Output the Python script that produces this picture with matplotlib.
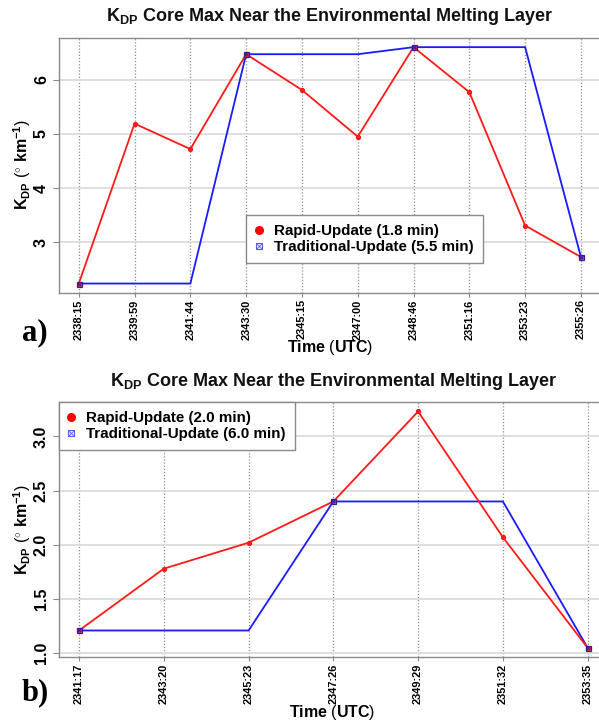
import matplotlib
matplotlib.use("Agg")
import matplotlib.pyplot as plt
from matplotlib.lines import Line2D

plt.rcParams['font.family'] = ['Liberation Sans', 'DejaVu Sans']
plt.rcParams['mathtext.fontset'] = 'custom'
plt.rcParams['mathtext.rm'] = 'Liberation Sans'
plt.rcParams['mathtext.bf'] = 'Liberation Sans:bold'
plt.rcParams['mathtext.it'] = 'Liberation Sans:italic'

# ---- data panel a ----
times_a = ['2338:15', '2339:59', '2341:44', '2343:30', '2345:15',
           '2347:00', '2348:46', '2351:16', '2353:23', '2355:26']
rapid_a = [2.24, 5.19, 4.72, 6.47, 5.81, 4.95, 6.60, 5.77, 3.31, 2.73]
trad_a = [2.24, 2.24, 2.24, 6.47, 6.47, 6.47, 6.60, 6.60, 6.60, 2.73]
trad_a_obs = [0, 3, 6, 9]
yticks_a = [3, 4, 5, 6]
leg_a = ['Rapid-Update (1.8 min)', 'Traditional-Update (5.5 min)']

# ---- data panel b ----
times_b = ['2341:17', '2343:20', '2345:23', '2347:26', '2349:29',
           '2351:32', '2353:35']
rapid_b = [1.21, 1.78, 2.02, 2.40, 3.23, 2.07, 1.05]
trad_b = [1.21, 1.21, 1.21, 2.40, 2.40, 2.40, 1.05]
trad_b_obs = [0, 3, 6]
yticks_b = [1.0, 1.5, 2.0, 2.5, 3.0]
leg_b = ['Rapid-Update (2.0 min)', 'Traditional-Update (6.0 min)']

title = r'$\mathbf{K_{DP}}$ Core Max Near the Environmental Melting Layer'
ylab = r'$\mathbf{K_{DP}}\ (^{\circ}\ \mathbf{km^{-1}})$'
xlab = r'$\mathbf{Time}\ (\mathbf{UTC})$'

RED = '#ff1a1a'
BLUE = '#1a1aff'
FRAME = '#8a8a8a'

fig = plt.figure(figsize=(5.99, 7.22), dpi=100)

W, H = 599.0, 722.0


def make_axes(left, right, top, bottom):
    return fig.add_axes([left / W, 1 - bottom / H, (right - left) / W, (bottom - top) / H])


ax_a = make_axes(58.7, 601.0, 37.7, 293.0)
ax_b = make_axes(58.7, 608.0, 402.0, 657.3)


def draw_panel(ax, times, rapid, trad, obs, yticks, labels, legend_anchor, ylabfmt):
    x = list(range(len(times)))
    n = len(times) - 1
    ax.set_xlim(-0.04 * n, n + 0.04 * n)
    lo = min(min(rapid), min(trad))
    hi = max(max(rapid), max(trad))
    r = hi - lo
    ax.set_ylim(lo - 0.04 * r, hi + 0.04 * r)

    # grid
    for xi in x:
        ax.axvline(xi, color='#8f8f8f', linestyle=(0, (1, 1.5)), lw=0.9, zorder=0)
    for yt in yticks:
        ax.axhline(yt, color='#dcdcdc', linestyle='-', lw=1.3, zorder=0)

    ax.plot(x, trad, color=BLUE, lw=1.3, zorder=2)
    ax.plot(x, rapid, color=RED, lw=1.3, marker='o', ms=2.8, mec=RED, mfc=RED, zorder=3)
    ox = [x[i] for i in obs]
    oy = [trad[i] for i in obs]
    ax.plot(ox, oy, linestyle='none', marker='s', ms=3.6, mfc='none', mec='#3a1a9a', mew=0.9, zorder=4)
    ax.plot(ox, oy, linestyle='none', marker='x', ms=3.0, mec='#3a1a9a', mew=0.7, zorder=4)

    ax.set_xticks(x)
    ax.set_xticklabels(times, rotation=90, fontsize=7.9, fontweight='bold')
    ax.set_yticks(yticks)
    ax.set_yticklabels([ylabfmt.format(v) for v in yticks], rotation=90, va='center',
                       fontsize=11.5, fontweight='bold')
    ax.tick_params(axis='x', length=3, width=0.8, color=FRAME, pad=1.5)
    ax.tick_params(axis='y', length=4.5, width=0.8, color=FRAME, pad=2.5)
    for s in ax.spines.values():
        s.set_color(FRAME)
        s.set_linewidth(1.0)

    h_rapid = Line2D([], [], linestyle='none', marker='o', ms=5.5, color='#ff0000')
    h_sq = Line2D([], [], linestyle='none', marker='s', ms=5.0, mfc='#eef0ff', mec='#5a5aff', mew=0.8)
    h_x = Line2D([], [], linestyle='none', marker='x', ms=4.0, mec='#5a5aff', mew=0.6)
    leg = ax.legend([h_rapid, (h_sq, h_x)], labels, loc='upper left',
                    bbox_to_anchor=legend_anchor, borderaxespad=0,
                    prop={'weight': 'bold', 'size': 10.9}, fancybox=False,
                    edgecolor=FRAME, framealpha=1, borderpad=0.62,
                    handlelength=0.45, handletextpad=0.75, labelspacing=0.1)
    leg.get_frame().set_linewidth(1.0)
    leg.set_zorder(10)


draw_panel(ax_a, times_a, rapid_a, trad_a, trad_a_obs, yticks_a, leg_a,
           ((246 - 58.7) / (601 - 58.7), (293 - 215) / (293 - 37.7)), '{:.0f}')
draw_panel(ax_b, times_b, rapid_b, trad_b, trad_b_obs, yticks_b, leg_b,
           (0.0, 1.0), '{:.1f}')

# titles
fig.text((58.7 + 601) / 2 / W, 1 - 16.7 / H, title, ha='center', va='center',
         fontsize=13, fontweight='bold', color='#111111')
fig.text((58.7 + 608) / 2 / W, 1 - 381.7 / H, title, ha='center', va='center',
         fontsize=13, fontweight='bold', color='#111111')

# y labels
fig.text(22 / W, 1 - 165 / H, ylab, rotation=90, ha='center', va='center', fontsize=11.5)
fig.text(22 / W, 1 - 530 / H, ylab, rotation=90, ha='center', va='center', fontsize=11.5)

# x labels
fig.text(330 / W, 1 - 347.5 / H, xlab, ha='center', va='center', fontsize=11.5)
fig.text(332 / W, 1 - 712.5 / H, xlab, ha='center', va='center', fontsize=11.5)

# panel letters
fig.text(35 / W, 1 - 333 / H, 'a)', ha='center', va='center', fontsize=22,
         fontweight='bold', family='Liberation Serif')
fig.text(35 / W, 1 - 693 / H, 'b)', ha='center', va='center', fontsize=22,
         fontweight='bold', family='Liberation Serif')

fig.savefig('out.png', dpi=100)
